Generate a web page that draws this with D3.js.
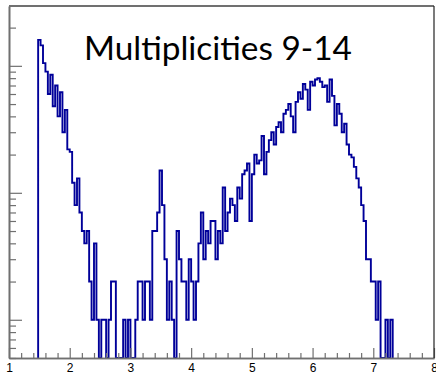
<!DOCTYPE html>
<html>
<head>
<meta charset="utf-8">
<script src="https://cdn.jsdelivr.net/npm/d3@7"></script>
<style>
html,body{margin:0;padding:0;background:#fff;}
svg{display:block;}
</style>
</head>
<body>
<svg id="c" width="436" height="376"></svg>
<script>
// ---- data ----
const titleText = "Multiplicities 9-14";
const binStart = 1.48;
const binWidth = 0.04;
const counts = [
  160,145,105,90,60,85,48,70,40,62,
  30,45,22,21,12,8,13,7,5,4,
  5,2,1,4,1,0,1,1,0,1,
  2,2,0,0,0,1,0,1,0,0,
  1,2,2,1,2,2,1,5,5,7,
  15,8,3,1,2,1,0,5,3,2,
  2,1,3,2,1,2,4,7,3,5,
  4,6,6,3,5,4,11,5,7,9,
  8,6,11,9,14,15,17,6,14,20,
  17,18,28,14,21,26,30,24,33,36,
  30,42,45,50,40,30,52,62,55,72,
  65,45,75,70,78,80,75,68,70,52,
  78,58,34,50,42,30,35,24,20,19,
  16,13,11,8,6,3,3,2,2,1,
  2,0,0,1,0,1
];
const xMajorTicks = [1,2,3,4,5,6,7,8];
const xDomain = [1, 8];
const yDomain = [0.5, 296];

// ---- layout ----
const L = 9, R = 434, T = 6, B = 358;
const svg = d3.select("#c");
const x = d3.scaleLinear().domain(xDomain).range([L, R]);
const y = d3.scaleLog().domain(yDomain).range([B, T]);

const axisColor = "#707070";

const xMinor = d3.range(1, 8.0001, 0.2).map(v => +v.toFixed(2)).filter(v => !xMajorTicks.includes(v));
const yMajor = [1, 10, 100];
const yMinor = [];
for (const dec of [0.1, 1, 10, 100]) {
  for (let k = 2; k <= 9; k++) {
    const v = +(k * dec).toFixed(3);
    if (v >= yDomain[0] && v <= yDomain[1]) yMinor.push(v);
  }
}

svg.append("defs").append("clipPath").attr("id", "clip")
  .append("rect").attr("x", L).attr("y", T).attr("width", R - L).attr("height", B - T);

let pts = [];
const yv = v => v > 0 ? y(Math.max(v, yDomain[0])) : B;
pts.push([x(binStart), B]);
counts.forEach((c, i) => {
  const x0 = x(binStart + i * binWidth), x1 = x(binStart + (i + 1) * binWidth);
  pts.push([x0, yv(c)]);
  pts.push([x1, yv(c)]);
});
pts.push([x(binStart + counts.length * binWidth), B]);

svg.append("path")
  .attr("clip-path", "url(#clip)")
  .attr("d", d3.line()(pts))
  .attr("fill", "none")
  .attr("stroke", "#000099")
  .attr("stroke-width", 1.9)
  .attr("stroke-linejoin", "miter");

const gxMinor = svg.append("g").attr("transform", `translate(0,${B})`)
  .call(d3.axisBottom(x).tickValues(xMinor).tickSize(-5).tickSizeOuter(0).tickFormat(""));
const gx = svg.append("g").attr("transform", `translate(0,${B})`)
  .call(d3.axisBottom(x).tickValues(xMajorTicks).tickSize(-10).tickSizeOuter(0).tickPadding(5).tickFormat(d3.format("d")));
const gyMinor = svg.append("g").attr("transform", `translate(${L},0)`)
  .call(d3.axisLeft(y).tickValues(yMinor).tickSize(-7).tickSizeOuter(0).tickFormat(""));
const gy = svg.append("g").attr("transform", `translate(${L},0)`)
  .call(d3.axisLeft(y).tickValues(yMajor).tickSize(-13).tickSizeOuter(0).tickFormat(""));

[gxMinor, gx, gyMinor, gy].forEach(g => {
  g.selectAll("path.domain").attr("stroke", axisColor).attr("stroke-width", 1.6);
  g.selectAll(".tick line").attr("stroke", axisColor).attr("stroke-width", 1.2);
});
gx.selectAll(".tick text")
  .attr("fill", "#000")
  .style("font-family", "'Liberation Sans', Arial, sans-serif")
  .style("font-size", "12px");

svg.append("line").attr("x1", L).attr("x2", R).attr("y1", T).attr("y2", T)
  .attr("stroke", axisColor).attr("stroke-width", 2);
svg.append("line").attr("x1", R).attr("x2", R).attr("y1", T).attr("y2", B)
  .attr("stroke", "#222").attr("stroke-width", 1.2);

const t = svg.append("text")
  .attr("x", 84).attr("y", 60)
  .attr("fill", "#000")
  .style("font-family", "Lato, 'Open Sans', sans-serif")
  .style("font-size", "30px")
  .text(titleText);
const w = t.node().getComputedTextLength();
t.style("font-size", (30 * 268 / w).toFixed(2) + "px");
</script>
</body>
</html>
